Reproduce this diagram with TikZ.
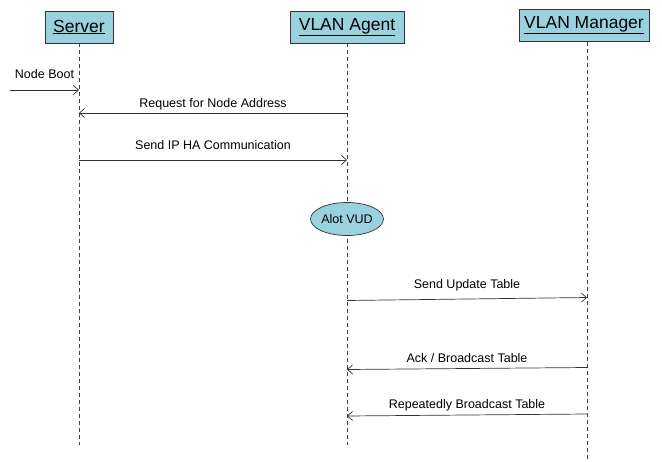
\documentclass[tikz,border=0pt]{standalone}
\usepackage{fontspec}
\setmainfont{Liberation Sans}
\usetikzlibrary{arrows.meta,shapes.geometric}
\definecolor{boxblue}{RGB}{153,210,222}
\tikzset{
  actor/.style={draw=black!80, fill=boxblue, line width=0.8pt, minimum height=32pt, inner xsep=4pt, font=\fontsize{17.5}{20}\selectfont},
  lifeline/.style={draw=black!75, dash pattern=on 4pt off 3pt, line width=0.6pt},
  msg/.style={draw=black!80, line width=0.7pt, -{Straight Barb[length=5pt,width=9pt]}},
  lbl/.style={font=\fontsize{12.5}{14}\selectfont, inner sep=0pt, text height=9pt, text depth=2.5pt},
  act/.style={ellipse, draw=black!80, fill=boxblue, line width=0.7pt, minimum width=73pt, minimum height=33pt, inner sep=0pt, font=\fontsize{12.5}{14}\selectfont}
}
\begin{document}
\begin{tikzpicture}[x=1pt,y=-1pt]
\useasboundingbox (0,0) rectangle (662,461);
% participants
\node[actor, minimum width=68pt] (srv) at (79,27) {\underline{Server}};
\node[actor, minimum width=114pt] (agt) at (347,27) {\underline{VLAN Agent}};
\node[actor, minimum width=130pt] (mgr) at (584,25) {\underline{VLAN Manager}};
% lifeline ends
\coordinate (srvEnd) at (79,445);
\coordinate (agtEnd) at (347,445);
\coordinate (mgrTop) at (587,42);
\coordinate (mgrEnd) at (587,461);
\draw[lifeline] (srv.south) -- (srvEnd);
\draw[lifeline] (agt.south) -- (agtEnd);
\draw[lifeline] (mgrTop) -- (mgrEnd);
% activation
\node[act] (vud) at (347,219) {Alot VUD};
% messages
\coordinate (bootStart) at (10,90);
\coordinate (bootEnd) at (79,90);
\draw[msg] (bootStart) -- node[lbl, yshift=15pt] {Node Boot} (bootEnd);
\coordinate (m1a) at (347,113);
\coordinate (m1b) at (79,113);
\draw[msg] (m1a) -- node[lbl, yshift=9pt] {Request for Node Address} (m1b);
\coordinate (m2a) at (79,160);
\coordinate (m2b) at (347,160);
\draw[msg] (m2a) -- node[lbl, yshift=14pt] {Send IP HA Communication} (m2b);
\coordinate (m3a) at (347,300.5);
\coordinate (m3b) at (587,297.5);
\draw[msg] (m3a) -- node[lbl, yshift=13.5pt] {Send Update Table} (m3b);
\coordinate (m4a) at (587,367.5);
\coordinate (m4b) at (347,369.5);
\draw[msg] (m4a) -- node[lbl, yshift=9.5pt] {Ack / Broadcast Table} (m4b);
\coordinate (m5a) at (587,414);
\coordinate (m5b) at (347,416);
\draw[msg] (m5a) -- node[lbl, yshift=10pt] {Repeatedly Broadcast Table} (m5b);
\end{tikzpicture}
\end{document}
